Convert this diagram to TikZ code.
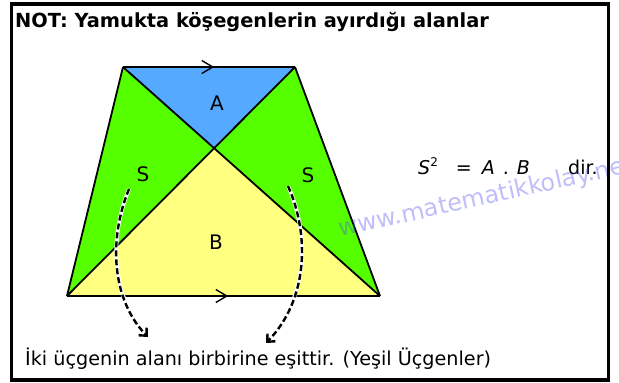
\documentclass[tikz,border=0pt]{standalone}
\usepackage{fontspec}
\setmainfont{DejaVu Sans}
\usetikzlibrary{arrows.meta,decorations.markings}
\definecolor{topblue}{RGB}{85,170,255}
\definecolor{sidegreen}{RGB}{85,255,0}
\definecolor{baseyellow}{RGB}{255,255,128}
\definecolor{markblue}{RGB}{70,70,240}
\tikzset{
  part/.style={draw=black,line width=1.8pt,line join=round},
  lbl/.style={font=\fontsize{20}{20}\selectfont,inner sep=0pt},
  parallel/.style={postaction={decorate},decoration={markings,
    mark=at position #1 with {\arrow{Straight Barb[length=11pt,width=13pt,line width=1.4pt]}}}},
  halo/.style={white,line width=3.8pt},
  swing/.style={dashed,dash pattern=on 6pt off 3pt,line width=2.4pt,-{Straight Barb[length=6pt,width=11pt]}}
}

\begin{document}
\begin{tikzpicture}[x=1pt,y=-1pt]
  \useasboundingbox (0,0) rectangle (619,383);
  \coordinate (tl) at (123,67);
  \coordinate (tr) at (295,67);
  \coordinate (bl) at (67,296);
  \coordinate (br) at (380,296);
  \coordinate (o) at (intersection of tl--br and tr--bl);
  % regions
  \fill[topblue] (tl) -- (tr) -- (o) -- cycle;
  \fill[sidegreen] (tl) -- (o) -- (bl) -- cycle;
  \fill[sidegreen] (tr) -- (br) -- (o) -- cycle;
  \fill[baseyellow] (bl) -- (o) -- (br) -- cycle;
  % trapezoid and diagonals
  \draw[part,parallel=0.53] (tl) -- (tr);
  \draw[part] (tr) -- (br);
  \draw[part,parallel=0.515] (bl) -- (br);
  \draw[part] (bl) -- (tl);
  \draw[part] (tl) -- (br) (tr) -- (bl);
  % labels
  \node[lbl] (a) at (217,103) {A};
  \node[lbl] (sl) at (143,174) {S};
  \node[lbl] (sr) at (308,175) {S};
  \node[lbl] (b) at (216,242) {B};
  % dashed arrows
  \coordinate (l1) at (129,189);
  \coordinate (l2) at (148,337);
  \coordinate (r1) at (288,186);
  \coordinate (r2) at (266,343);
  \draw[halo] (l1) .. controls (108,240) and (112,300) .. (l2);
  \draw[swing] (l1) .. controls (108,240) and (112,300) .. (l2);
  \draw[halo] (r1) .. controls (310,235) and (308,300) .. (r2);
  \draw[swing] (r1) .. controls (310,235) and (308,300) .. (r2);
  % texts
  \node[anchor=base west,inner sep=0pt,font=\bfseries\fontsize{19.4}{19.4}\selectfont] (title) at (15,27)
    {NOT: Yamukta köşegenlerin ayırdığı alanlar};
  \node[lbl,anchor=base west,font=\fontsize{19}{19}\selectfont] (eq) at (418,174)
    {\textit{S}\raisebox{8pt}{\fontsize{12}{12}\selectfont 2}\hspace{18pt}=\hspace{10pt}\textit{A}\hspace{8pt}.\hspace{8pt}\textit{B}};
  \node[lbl,anchor=base west,font=\fontsize{19}{19}\selectfont] (dir) at (568,174) {dir.};
  \node[anchor=base west,inner sep=0pt,font=\fontsize{19.2}{19.2}\selectfont] (note) at (25,365)
    {İki üçgenin alanı birbirine eşittir. (Yeşil Üçgenler)};
  % watermark
  \node[markblue,opacity=0.35,rotate=12.5,anchor=base west,inner sep=0pt,font=\fontsize{24}{24}\selectfont] (www) at (340,237)
    {www.matematikkolay.net};
  % frame
  \draw[line width=3.5pt] (11.5,4) rectangle (608.5,380);
\end{tikzpicture}
\end{document}
